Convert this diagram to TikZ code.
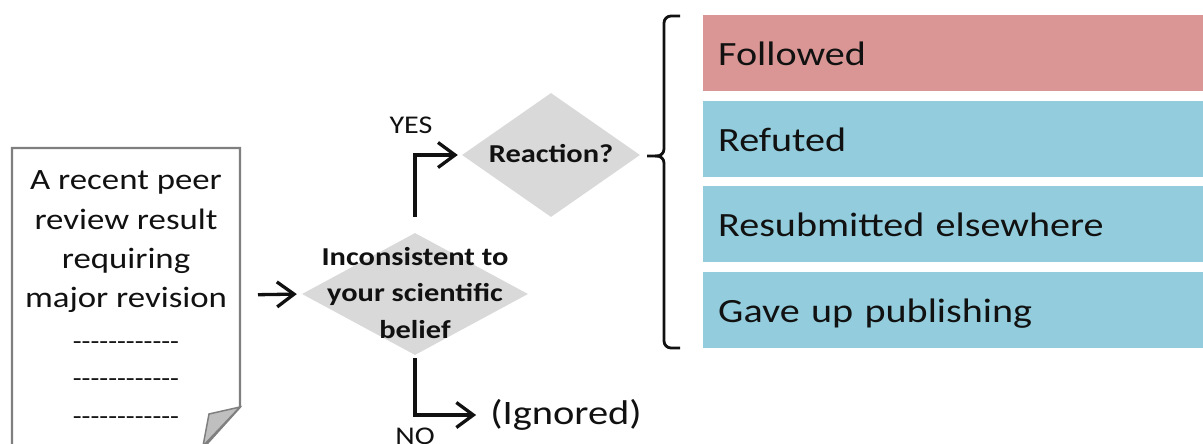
\documentclass[tikz,border=0pt]{standalone}
\usepackage{fontspec}
\setmainfont{Carlito}[FakeStretch=1.18]
\usetikzlibrary{shapes.geometric,arrows.meta}
\definecolor{pageline}{HTML}{7F7F7F}
\definecolor{foldgray}{HTML}{BFBFBF}
\definecolor{diagray}{HTML}{D9D9D9}
\definecolor{redbox}{HTML}{D99694}
\definecolor{bluebox}{HTML}{93CDDD}
\definecolor{ink}{HTML}{111111}
% a row of twelve separate hyphens (no dash ligatures)
\newcommand\hyphenrow{-{}-{}-{}-{}-{}-{}-{}-{}-{}-{}-{}-}
\tikzset{
  decision/.style={shape=diamond, fill=diagray, draw=none, inner sep=0pt},
  decisiontext/.style={align=center, text=ink, inner sep=0pt,
    font=\bfseries\fontsize{25.8}{36.5}\selectfont},
  doctext/.style={align=center, text=ink, inner sep=0pt,
    font=\fontsize{29.5}{39.3}\selectfont},
  flow/.style={draw=ink, line width=3.3pt,
    -{Straight Barb[length=17pt,width=25pt,line width=3.3pt]}},
  choice/.style={anchor=north west, minimum height=76pt, text width=470pt,
    inner xsep=15pt, inner ysep=0pt, align=left, text=ink,
    text height=24pt, text depth=0pt,
    font=\fontsize{34}{38}\selectfont},
  tag/.style={text=ink, inner sep=0pt, font=\fontsize{25.5}{30}\selectfont}
}
\begin{document}
\begin{tikzpicture}[x=1pt,y=-1pt]
\useasboundingbox (0,0) rectangle (1203,444);

% the review document: a sheet with a curled lower corner
\draw[pageline, line width=2.2pt, fill=white]
  (12,148) -- (240,148) -- (240,407) -- (203,448) -- (12,448) -- cycle;
\draw[pageline, line width=1.5pt, fill=foldgray]
  (240,407) -- (209,414) -- (203,446) -- cycle;
\node[doctext] (doc) at (126,242)
  {A recent peer\\review result\\requiring\\major revision};
\node[doctext, font=\fontsize{24.5}{37.5}\selectfont] (lines) at (126,383)
  {\hyphenrow\\\hyphenrow\\\hyphenrow};

% decisions
\node[decision, minimum width=226pt, minimum height=122pt] (d1) at (415,294) {};
\node[decisiontext] (d1t) at (415,293)
  {Inconsistent to\\your scientific\\belief};
\node[decision, minimum width=178pt, minimum height=124pt] (d2) at (551,155) {};
\node[decisiontext] (d2t) at (551,154) {Reaction?};

% outcome of the NO branch and branch labels
\node[text=ink, inner sep=2pt, font=\fontsize{34.3}{40}\selectfont] (ign) at (566,415) {(Ignored)};
\node[tag, anchor=base] (yes) at (411,133) {YES};
\node[tag, anchor=base] (no) at (415,444) {NO};

% connectors
\coordinate (docR) at (240,295);
\draw[flow, shorten <=18pt, shorten >=5pt] (docR) -- (d1.west);
\draw[flow, shorten >=4pt] ([yshift=16pt]d1.north) |- (d2.west);
\draw[flow, shorten >=12pt] ([yshift=-3pt]d1.south) |- (ign.west);

% possible reactions
\node[choice, fill=redbox]  (c1) at (703,15)  {Followed};
\node[choice, fill=bluebox] (c2) at (703,101) {Refuted};
\node[choice, fill=bluebox] (c3) at (703,186) {Resubmitted elsewhere};
\node[choice, fill=bluebox] (c4) at (703,272) {Gave up publishing};

% brace gathering the reactions
\draw[ink, line width=2.8pt, rounded corners=7pt]
  (680,16) -- (664,16) -- (664,156) -- (647,156);
\draw[ink, line width=2.8pt, rounded corners=7pt]
  (680,348) -- (664,348) -- (664,156) -- (655,156);
\end{tikzpicture}
\end{document}
